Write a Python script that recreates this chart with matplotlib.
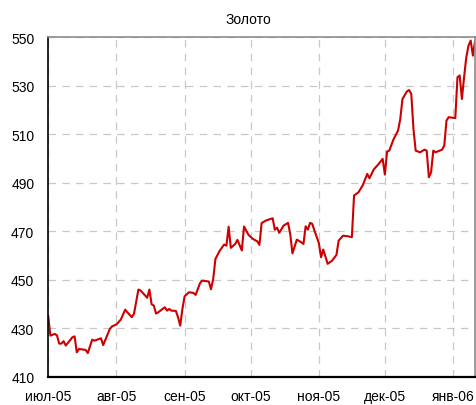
import pandas as pd
import matplotlib
matplotlib.use('Agg')
import matplotlib.pyplot as plt

plt.rcParams['font.family'] = ['Liberation Sans', 'DejaVu Sans']

# Gold price
dates = [
    '2005-07-01', '2005-07-02', '2005-07-04', '2005-07-05', '2005-07-06', '2005-07-07',
    '2005-07-08', '2005-07-09', '2005-07-12', '2005-07-13', '2005-07-14', '2005-07-15',
    '2005-07-18', '2005-07-19', '2005-07-21', '2005-07-22', '2005-07-25', '2005-07-26',
    '2005-07-29', '2005-07-30', '2005-08-01', '2005-08-03', '2005-08-05', '2005-08-06',
    '2005-08-08', '2005-08-09', '2005-08-11', '2005-08-12', '2005-08-15', '2005-08-16',
    '2005-08-17', '2005-08-18', '2005-08-19', '2005-08-20', '2005-08-23', '2005-08-24',
    '2005-08-25', '2005-08-26', '2005-08-28', '2005-08-29', '2005-08-30', '2005-08-31',
    '2005-09-01', '2005-09-03', '2005-09-05', '2005-09-06', '2005-09-08', '2005-09-09',
    '2005-09-12', '2005-09-13', '2005-09-14', '2005-09-15', '2005-09-17', '2005-09-19',
    '2005-09-20', '2005-09-21', '2005-09-22', '2005-09-24', '2005-09-25', '2005-09-27',
    '2005-09-28', '2005-09-30', '2005-10-02', '2005-10-04', '2005-10-05', '2005-10-06',
    '2005-10-08', '2005-10-11', '2005-10-12', '2005-10-13', '2005-10-14', '2005-10-16',
    '2005-10-18', '2005-10-19', '2005-10-20', '2005-10-22', '2005-10-24', '2005-10-25',
    '2005-10-26', '2005-10-27', '2005-10-28', '2005-10-29', '2005-10-30', '2005-11-01',
    '2005-11-02', '2005-11-03', '2005-11-05', '2005-11-07', '2005-11-09', '2005-11-10',
    '2005-11-12', '2005-11-14', '2005-11-16', '2005-11-17', '2005-11-19', '2005-11-21',
    '2005-11-23', '2005-11-24', '2005-11-26', '2005-11-28', '2005-11-30', '2005-12-01',
    '2005-12-02', '2005-12-03', '2005-12-05', '2005-12-07', '2005-12-08', '2005-12-09',
    '2005-12-11', '2005-12-12', '2005-12-13', '2005-12-14', '2005-12-15', '2005-12-17',
    '2005-12-19', '2005-12-20', '2005-12-21', '2005-12-22', '2005-12-23', '2005-12-24',
    '2005-12-27', '2005-12-28', '2005-12-29', '2005-12-30', '2006-01-02', '2006-01-03',
    '2006-01-04', '2006-01-05', '2006-01-06', '2006-01-07', '2006-01-08', '2006-01-09',
    '2006-01-10', '2006-01-11',
]
prices = [
    435.1, 426.9, 427.6, 427.0, 423.6, 423.6,
    424.6, 422.8, 426.2, 426.6, 420.0, 421.4,
    421.0, 419.7, 425.2, 424.8, 425.8, 423.0,
    429.6, 430.7, 431.5, 433.5, 437.6, 436.5,
    434.5, 435.9, 445.9, 445.5, 442.5, 445.9,
    439.8, 439.3, 436.0, 436.5, 438.6, 437.2,
    437.9, 437.2, 437.1, 434.5, 431.0, 437.9,
    443.1, 444.8, 444.5, 443.7, 448.5, 449.6,
    449.2, 446.0, 450.3, 458.5, 462.0, 464.5,
    464.0, 471.8, 463.1, 464.7, 466.4, 462.0,
    471.9, 468.5, 466.8, 465.8, 464.3, 473.3,
    474.4, 475.3, 470.6, 471.4, 469.3, 472.3,
    473.4, 468.8, 460.8, 466.5, 465.4, 464.7,
    472.0, 470.6, 473.4, 473.0, 470.2, 465.1,
    459.2, 462.4, 456.5, 457.8, 460.2, 466.1,
    468.1, 467.9, 467.5, 484.7, 486.0, 489.0,
    493.6, 491.8, 495.5, 497.5, 499.8, 493.3,
    502.8, 503.2, 508.0, 511.5, 516.3, 524.5,
    527.6, 528.2, 526.6, 512.1, 503.2, 502.5,
    503.6, 503.2, 492.2, 494.3, 503.2, 502.5,
    503.6, 505.3, 515.6, 517.0, 516.6, 533.5,
    534.2, 524.5, 533.5, 541.7, 546.5, 548.6,
    542.4, 548.6,
]
month_ticks = ['2005-07-01', '2005-08-01', '2005-09-01', '2005-10-01',
               '2005-11-01', '2005-12-01', '2006-01-01']
month_labels = ['июл-05', 'авг-05', 'сен-05', 'окт-05', 'ноя-05', 'дек-05', 'янв-06']
y_ticks = [410, 430, 450, 470, 490, 510, 530, 550]

df = pd.DataFrame({'date': pd.to_datetime(dates), 'price': prices})

fig = plt.figure(figsize=(4.77, 4.06), dpi=100)
ax = fig.add_axes([0.101, 0.070, 0.895, 0.836])

ax.plot(df['date'], df['price'], color='#cc0000', linewidth=1.5,
        solid_joinstyle='round', solid_capstyle='round')

ax.set_xlim(pd.Timestamp('2005-07-01'), pd.Timestamp('2006-01-11'))
ax.set_ylim(410, 550)
ax.set_xticks(pd.to_datetime(month_ticks))
ax.set_xticklabels(month_labels)
ax.set_yticks(y_ticks)

ax.grid(True, color='#c8c8c8', linestyle=(0, (6, 5)), linewidth=0.9)
ax.tick_params(axis='both', length=0, labelsize=10, colors='black')
ax.tick_params(axis='x', pad=9)
ax.tick_params(axis='y', pad=10)

ax.spines['left'].set_color('black')
ax.spines['left'].set_linewidth(1.2)
ax.spines['bottom'].set_color('black')
ax.spines['bottom'].set_linewidth(1.6)
ax.spines['top'].set_color('#8c8c8c')
ax.spines['top'].set_linewidth(1.2)
ax.spines['right'].set_color('#8c8c8c')
ax.spines['right'].set_linewidth(1.2)

fig.text(0.52, 0.95, 'Золото', ha='center', va='center', fontsize=10)

fig.savefig('out.png', dpi=100)
